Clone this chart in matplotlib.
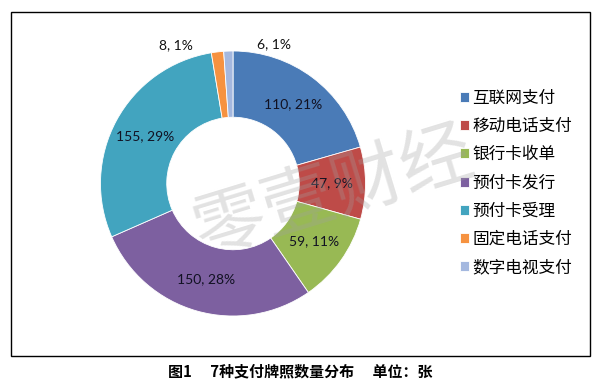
import numpy as np
import matplotlib
matplotlib.use('Agg')
import matplotlib.pyplot as plt
from matplotlib.patches import Rectangle

plt.rcParams['font.family'] = ['Noto Sans CJK SC', 'DejaVu Sans']

NAMES = ['互联网支付', '移动电话支付', '银行卡收单', '预付卡发行', '预付卡受理', '固定电话支付', '数字电视支付']
COUNTS = [110, 47, 59, 150, 155, 8, 6]
COLORS = ['#4A7BB7', '#BE4B48', '#98B954', '#7D60A0', '#42A4BF', '#F69240', '#A4B8DF']
CAPTION = '图1\u3000 7种支付牌照数量分布\u3000 单位：张'

W, H = 596, 386
fig = plt.figure(figsize=(W / 100, H / 100), dpi=100)

# donut axes, centre ~ (233, 183) px, radius ~ 132 px
cx, cy, R, half = 233, 183.5, 132.5, 140
ax = fig.add_axes([(cx - half) / W, (H - cy - half) / H, 2 * half / W, 2 * half / H])
wedges, _ = ax.pie(COUNTS, colors=COLORS, startangle=90, counterclock=False,
                   radius=1.0, wedgeprops=dict(width=0.5, edgecolor='white', linewidth=0.6))
ax.set_xlim(-half / R, half / R)
ax.set_ylim(-half / R, half / R)
ax.set_aspect('equal')
ax.axis('off')

total = sum(COUNTS)
cum = np.cumsum([0] + COUNTS)
for i, v in enumerate(COUNTS):
    mid = np.deg2rad(90 - 360 * (cum[i] + v / 2) / total)
    txt = f'{v}, {round(100 * v / total)}%'
    if v / total > 0.05:
        ax.text(0.75 * np.cos(mid), 0.75 * np.sin(mid), txt, ha='center', va='center',
                fontsize=10, family=['Lato', 'DejaVu Sans'], color='#111122')
    else:
        dx = -30 if np.cos(mid) < -0.1 else 33
        ax.annotate(txt, (np.cos(mid), np.sin(mid)), xytext=(dx, 5), textcoords='offset points',
                    ha='center', va='center', fontsize=10, family=['Lato', 'DejaVu Sans'],
                    color='#111111', annotation_clip=False)

# watermark
fig.text(0.56, 0.50, '零壹财经', fontsize=52, color='#a0a0a0', alpha=0.3, rotation=17,
         ha='center', va='center', zorder=10)

fig.legend(wedges, NAMES, loc='center left', bbox_to_anchor=(460 / W, 1 - 183 / H),
           frameon=False, fontsize=12, handlelength=0.55, handleheight=0.55,
           handletextpad=0.2, labelspacing=0.67, borderpad=0, borderaxespad=0)

fig.add_artist(Rectangle((11 / W, 1 - 356 / H), 579 / W, 344 / H, transform=fig.transFigure,
                         fill=False, edgecolor='black', linewidth=1.0))

fig.text(300 / W, 1 - 371 / H, CAPTION, ha='center', va='center', fontsize=10.8, fontweight='bold')

fig.savefig('out.png', dpi=100)
